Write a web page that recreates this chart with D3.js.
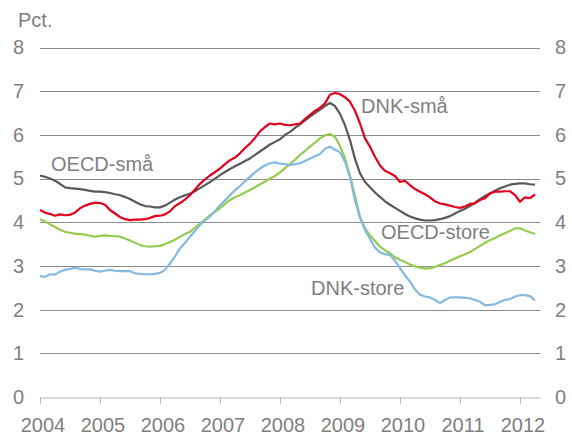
<!DOCTYPE html>
<html>
<head>
<meta charset="utf-8">
<script src="https://cdn.jsdelivr.net/npm/d3@7"></script>
<style>
  body { margin: 0; background: #fff; }
  svg text { font-family: "Liberation Sans", Arial, sans-serif; fill: #7f7f7f; }
</style>
</head>
<body>
<svg id="chart" width="572" height="436"></svg>
<script>
// monthly values, Jan 2004 .. Apr 2012
const yearLabels = ['2004', '2005', '2006', '2007', '2008', '2009', '2010', '2011', '2012'];
const yTicks = [0, 1, 2, 3, 4, 5, 6, 7, 8];

const oecdSmaa = [5.07, 5.04, 5.00, 4.95, 4.88, 4.80, 4.78, 4.77, 4.76, 4.74, 4.72, 4.70,
  4.70, 4.69, 4.67, 4.64, 4.62, 4.58, 4.53, 4.47, 4.41, 4.37, 4.36, 4.34,
  4.34, 4.38, 4.45, 4.52, 4.57, 4.62, 4.66, 4.71, 4.78, 4.85, 4.92, 5.00,
  5.08, 5.15, 5.22, 5.28, 5.34, 5.40, 5.46, 5.54, 5.62, 5.70, 5.78, 5.84,
  5.90, 6.00, 6.07, 6.16, 6.24, 6.33, 6.42, 6.50, 6.58, 6.66, 6.73, 6.66,
  6.48, 6.22, 5.88, 5.45, 5.12, 4.92, 4.80, 4.68, 4.58, 4.48, 4.40, 4.33,
  4.26, 4.19, 4.13, 4.09, 4.06, 4.04, 4.04, 4.05, 4.07, 4.10, 4.14, 4.20,
  4.26, 4.31, 4.37, 4.45, 4.53, 4.60, 4.66, 4.72, 4.78, 4.82, 4.86, 4.88,
  4.89, 4.89, 4.87, 4.86];

const dnkSmaa = [4.28, 4.22, 4.19, 4.15, 4.18, 4.16, 4.17, 4.22, 4.32, 4.38, 4.42, 4.45,
  4.44, 4.40, 4.28, 4.20, 4.12, 4.07, 4.05, 4.06, 4.06, 4.07, 4.10, 4.14,
  4.15, 4.18, 4.25, 4.37, 4.44, 4.52, 4.62, 4.75, 4.88, 4.98, 5.07, 5.15,
  5.23, 5.33, 5.42, 5.48, 5.58, 5.70, 5.80, 5.93, 6.08, 6.18, 6.26, 6.24,
  6.26, 6.23, 6.22, 6.24, 6.26, 6.36, 6.46, 6.55, 6.62, 6.72, 6.92, 6.96,
  6.93, 6.86, 6.76, 6.55, 6.26, 5.92, 5.73, 5.50, 5.30, 5.18, 5.12, 5.06,
  4.92, 4.95, 4.85, 4.76, 4.70, 4.64, 4.57, 4.48, 4.43, 4.41, 4.38, 4.35,
  4.33, 4.36, 4.42, 4.43, 4.51, 4.55, 4.66, 4.70, 4.70, 4.71, 4.71, 4.62,
  4.47, 4.57, 4.55, 4.64];

const oecdStore = [4.07, 4.02, 3.95, 3.89, 3.83, 3.78, 3.76, 3.74, 3.73, 3.72, 3.69, 3.67,
  3.69, 3.70, 3.69, 3.68, 3.67, 3.63, 3.58, 3.53, 3.48, 3.45, 3.44, 3.45,
  3.46, 3.50, 3.55, 3.60, 3.67, 3.73, 3.78, 3.88, 3.97, 4.06, 4.16, 4.24,
  4.32, 4.42, 4.51, 4.57, 4.62, 4.68, 4.74, 4.80, 4.87, 4.93, 5.00, 5.06,
  5.14, 5.24, 5.33, 5.43, 5.54, 5.63, 5.73, 5.82, 5.92, 5.99, 6.02, 5.95,
  5.75, 5.46, 5.06, 4.60, 4.12, 3.86, 3.70, 3.57, 3.44, 3.36, 3.29, 3.20,
  3.14, 3.09, 3.03, 2.99, 2.96, 2.94, 2.95, 2.98, 3.02, 3.06, 3.12, 3.17,
  3.22, 3.27, 3.32, 3.39, 3.46, 3.53, 3.59, 3.64, 3.70, 3.75, 3.80, 3.86,
  3.86, 3.81, 3.77, 3.73];

const dnkStore = [2.77, 2.75, 2.81, 2.80, 2.87, 2.91, 2.93, 2.96, 2.93, 2.92, 2.92, 2.89,
  2.87, 2.89, 2.91, 2.89, 2.88, 2.88, 2.88, 2.83, 2.82, 2.81, 2.81, 2.82,
  2.84, 2.91, 3.06, 3.22, 3.40, 3.53, 3.67, 3.80, 3.94, 4.04, 4.13, 4.26,
  4.39, 4.50, 4.62, 4.73, 4.83, 4.94, 5.04, 5.14, 5.23, 5.30, 5.35, 5.37,
  5.34, 5.33, 5.31, 5.33, 5.35, 5.40, 5.46, 5.51, 5.56, 5.68, 5.73, 5.66,
  5.60, 5.38, 5.04, 4.50, 4.10, 3.82, 3.62, 3.42, 3.31, 3.27, 3.25, 3.12,
  2.95, 2.78, 2.64, 2.46, 2.34, 2.30, 2.28, 2.22, 2.15, 2.22, 2.28, 2.28,
  2.28, 2.27, 2.26, 2.22, 2.18, 2.10, 2.11, 2.12, 2.18, 2.22, 2.24, 2.30,
  2.33, 2.33, 2.31, 2.21];

const series = [
  { name: 'OECD-små', values: oecdSmaa, color: '#595959', lx: 51, ly: 171 },
  { name: 'DNK-små', values: dnkSmaa, color: '#e2001a', lx: 361, ly: 113 },
  { name: 'OECD-store', values: oecdStore, color: '#97cb4f', lx: 381, ly: 239 },
  { name: 'DNK-store', values: dnkStore, color: '#85b9e1', lx: 311, ly: 295 }
];

const svg = d3.select('#chart');
const plotLeft = 40, plotRight = 540, plotTop = 47.5, plotBottom = 397;

const x = d3.scaleLinear().domain([0, 100]).range([plotLeft, plotRight]);
const y = d3.scaleLinear().domain([0, 8]).range([plotBottom, plotTop]);

// gridlines
svg.append('g')
  .selectAll('line')
  .data(yTicks.filter(d => d > 0))
  .enter().append('line')
  .attr('x1', plotLeft).attr('x2', plotRight)
  .attr('y1', d => Math.round(y(d)) + 0.5)
  .attr('y2', d => Math.round(y(d)) + 0.5)
  .attr('stroke', '#8c8c8c')
  .attr('stroke-width', 1);

// x axis
const xAxis = svg.append('g')
  .attr('transform', 'translate(0,' + (Math.round(plotBottom) + 0.5) + ')')
  .call(d3.axisBottom(x)
    .tickValues(yearLabels.map((d, i) => i * 12))
    .tickFormat((d, i) => yearLabels[i])
    .tickSize(6)
    .tickSizeOuter(0)
    .tickPadding(14));
xAxis.select('.domain').attr('stroke', '#b4b4b4');
xAxis.selectAll('.tick line').attr('stroke', '#b4b4b4');
xAxis.selectAll('.tick text')
  .attr('fill', '#7f7f7f')
  .style('font-size', '20px')
  .attr('dx', '2.5');

// y axes left and right
const yLeft = svg.append('g')
  .attr('transform', 'translate(' + plotLeft + ',0)')
  .call(d3.axisLeft(y).tickValues(yTicks).tickSize(0).tickPadding(16));
const yRight = svg.append('g')
  .attr('transform', 'translate(' + plotRight + ',0)')
  .call(d3.axisRight(y).tickValues(yTicks).tickSize(0).tickPadding(15));
[yLeft, yRight].forEach(g => {
  g.select('.domain').remove();
  g.selectAll('text').attr('fill', '#7f7f7f').style('font-size', '20px');
});

// lines
const line = d3.line()
  .x((d, i) => x(i))
  .y(d => y(d));

svg.append('g')
  .selectAll('path')
  .data(series)
  .enter().append('path')
  .attr('d', d => line(d.values))
  .attr('fill', 'none')
  .attr('stroke', d => d.color)
  .attr('stroke-width', 2.2)
  .attr('stroke-linejoin', 'round');

// series labels
svg.append('g')
  .selectAll('text')
  .data(series)
  .enter().append('text')
  .attr('x', d => d.lx)
  .attr('y', d => d.ly)
  .style('font-size', '20px')
  .text(d => d.name);

svg.append('text')
  .attr('x', 18)
  .attr('y', 27)
  .style('font-size', '20px')
  .text('Pct.');
</script>
</body>
</html>
